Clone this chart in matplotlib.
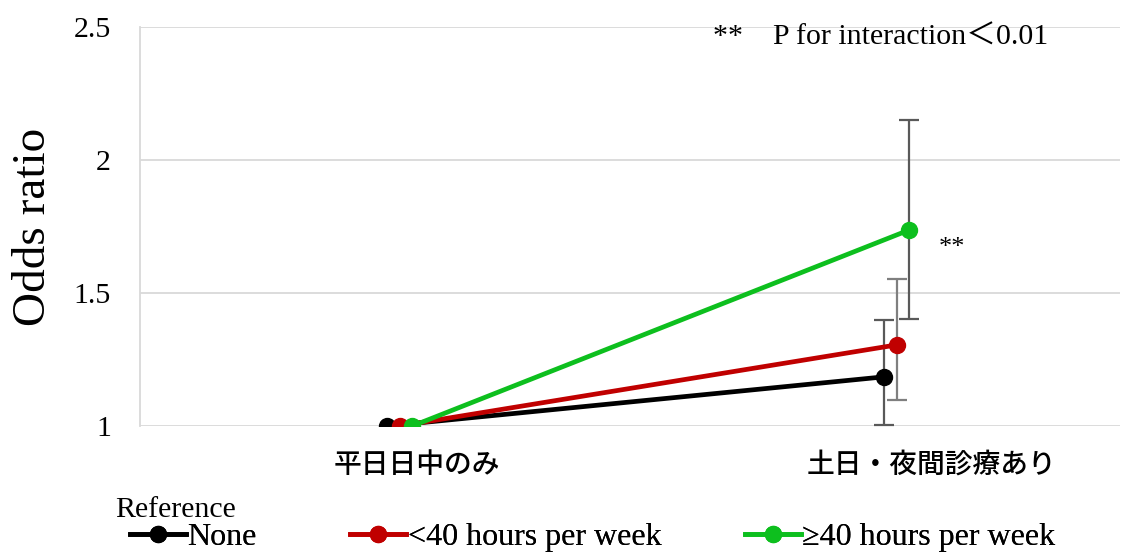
import matplotlib.pyplot as plt
from matplotlib.lines import Line2D

plt.rcParams['font.family'] = ['Liberation Serif', 'Noto Sans CJK JP']

categories = ['平日日中のみ', '土日・夜間診療あり']
series = ['None', '<40 hours per week', '≥40 hours per week']
colors = ['#000000', '#C00000', '#0DBF1E']
odds = [[1.0, 1.185], [1.0, 1.305], [1.0, 1.737]]
ci_low = [[None, 1.004], [None, 1.098], [None, 1.402]]
ci_high = [[None, 1.398], [None, 1.551], [None, 2.150]]
err_colors = ['#595959', '#7F7F7F', '#595959']

fig = plt.figure(figsize=(11.23, 5.53), dpi=100)
ax = fig.add_axes([140 / 1123, 1 - 426 / 553, 980 / 1123, 399 / 553])

offsets = [-0.025, 0, 0.025]
for i, name in enumerate(series):
    xs = [0 + offsets[i], 1 + offsets[i]]
    ax.plot(xs, odds[i], color=colors[i], lw=3.4, marker='o', ms=11.5, zorder=4, solid_capstyle='round')
    lo = odds[i][1] - ci_low[i][1]
    hi = ci_high[i][1] - odds[i][1]
    ax.errorbar([xs[1]], [odds[i][1]], yerr=[[lo], [hi]], fmt='none',
                ecolor=err_colors[i], elinewidth=1.6, capsize=7, capthick=1.6, zorder=3)

ax.set_xlim(-0.523, 1.449)
ax.set_ylim(1, 2.5)
ax.set_yticks([1, 1.5, 2, 2.5])
ax.set_yticklabels(['1', '1.5', '2', '2.5'], fontsize=21.5)
ax.set_xticks([0.034, 1.07])
ax.set_xticklabels(categories, fontsize=20, family=['Noto Sans CJK JP'], fontweight='medium')
ax.tick_params(length=0)
ax.tick_params(axis='x', pad=17)
ax.tick_params(axis='y', pad=21)
ax.grid(axis='y', color='#D9D9D9', lw=1.3)
ax.set_axisbelow(True)
for s in ['top', 'right', 'bottom']:
    ax.spines[s].set_visible(False)
ax.spines['left'].set_color('#D9D9D9')
ax.spines['left'].set_linewidth(1.3)
ax.set_ylabel('Odds ratio', fontsize=34)
ax.yaxis.set_label_coords(-85 / 980, 0.5)

ax.text(1.085, 1.67, '**', fontsize=19, ha='left', va='center')
fig.text(713 / 1123, 1 - 38 / 553, '**    P for interaction＜0.01', fontsize=21.5, ha='left', va='center')

# one legend per entry so each sits where the reference has it
legend_x = [130, 350, 745]
for i, name in enumerate(series):
    h = Line2D([0], [0], color=colors[i], lw=3.4, marker='o', ms=11.5)
    leg = fig.legend([h], [name], loc='center left', bbox_to_anchor=(legend_x[i] / 1123, 1 - 537 / 553),
                     frameon=False, fontsize=23, handlelength=1.75, handletextpad=0.05,
                     borderpad=0, borderaxespad=0)
    fig.add_artist(leg)
fig.text(115 / 1123, 1 - 510 / 553, 'Reference', fontsize=21.5, ha='left', va='center')

plt.savefig('out.png', dpi=100)
